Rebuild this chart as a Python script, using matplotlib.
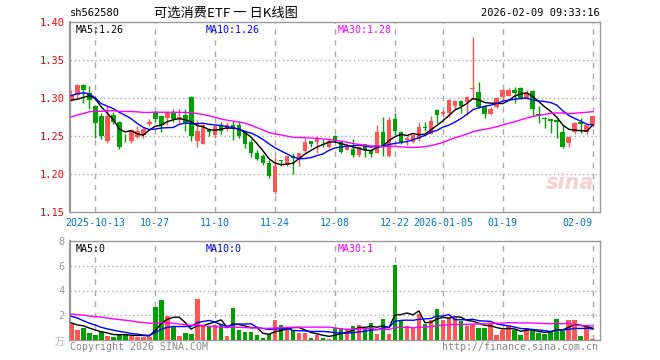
import numpy as np
import pandas as pd
import matplotlib
matplotlib.use("Agg")
import matplotlib.pyplot as plt

# daily candles, 2025-09-29 .. 2026-02-09
open_ = [1.298, 1.304, 1.317, 1.306, 1.289, 1.276, 1.243, 1.278, 1.269, 1.248,
         1.243, 1.249, 1.251, 1.266, 1.282, 1.276, 1.274, 1.280, 1.272, 1.277,
         1.301, 1.244, 1.240, 1.258, 1.251, 1.264, 1.259, 1.264, 1.264, 1.255,
         1.242, 1.227, 1.224, 1.215, 1.176, 1.219, 1.212, 1.224, 1.220, 1.230,
         1.243, 1.242, 1.240, 1.235, 1.250, 1.242, 1.232, 1.233, 1.225, 1.239,
         1.232, 1.228, 1.255, 1.224, 1.273, 1.255, 1.245, 1.242, 1.246, 1.262,
         1.253, 1.284, 1.279, 1.280, 1.290, 1.296, 1.295, 1.312, 1.308, 1.288,
         1.279, 1.288, 1.301, 1.303, 1.310, 1.313, 1.300, 1.309, 1.279, 1.274,
         1.272, 1.271, 1.255, 1.241, 1.255, 1.268, 1.255, 1.264]
high_ = [1.310, 1.318, 1.318, 1.316, 1.291, 1.280, 1.289, 1.282, 1.270, 1.252,
         1.259, 1.263, 1.260, 1.272, 1.283, 1.277, 1.282, 1.285, 1.285, 1.285,
         1.302, 1.271, 1.266, 1.261, 1.263, 1.268, 1.268, 1.270, 1.270, 1.258,
         1.246, 1.231, 1.226, 1.218, 1.223, 1.219, 1.224, 1.228, 1.228, 1.248,
         1.244, 1.250, 1.246, 1.246, 1.251, 1.244, 1.240, 1.246, 1.237, 1.240,
         1.233, 1.264, 1.275, 1.275, 1.280, 1.257, 1.250, 1.253, 1.268, 1.268,
         1.276, 1.285, 1.284, 1.299, 1.298, 1.297, 1.303, 1.380, 1.321, 1.291,
         1.288, 1.301, 1.312, 1.313, 1.315, 1.314, 1.310, 1.310, 1.289, 1.275,
         1.273, 1.272, 1.264, 1.250, 1.268, 1.274, 1.266, 1.277]
low_ = [1.296, 1.300, 1.294, 1.285, 1.248, 1.246, 1.241, 1.266, 1.233, 1.242,
        1.241, 1.247, 1.248, 1.263, 1.268, 1.255, 1.264, 1.268, 1.267, 1.256,
        1.244, 1.235, 1.239, 1.250, 1.248, 1.253, 1.256, 1.245, 1.248, 1.234,
        1.222, 1.218, 1.212, 1.195, 1.174, 1.211, 1.211, 1.200, 1.211, 1.229,
        1.236, 1.227, 1.236, 1.234, 1.242, 1.228, 1.231, 1.223, 1.223, 1.223,
        1.223, 1.227, 1.224, 1.223, 1.251, 1.240, 1.238, 1.241, 1.244, 1.257,
        1.252, 1.267, 1.275, 1.275, 1.286, 1.280, 1.277, 1.299, 1.287, 1.274,
        1.278, 1.287, 1.297, 1.302, 1.294, 1.299, 1.299, 1.276, 1.267, 1.261,
        1.254, 1.247, 1.234, 1.236, 1.252, 1.254, 1.253, 1.262]
close_ = [1.304, 1.317, 1.311, 1.297, 1.267, 1.250, 1.276, 1.269, 1.235, 1.247,
          1.258, 1.256, 1.259, 1.268, 1.273, 1.264, 1.280, 1.272, 1.275, 1.266,
          1.250, 1.256, 1.264, 1.255, 1.263, 1.257, 1.264, 1.262, 1.250, 1.239,
          1.228, 1.220, 1.215, 1.198, 1.211, 1.217, 1.224, 1.221, 1.228, 1.242,
          1.240, 1.246, 1.238, 1.244, 1.243, 1.229, 1.236, 1.225, 1.236, 1.231,
          1.226, 1.255, 1.237, 1.271, 1.256, 1.242, 1.247, 1.251, 1.262, 1.260,
          1.270, 1.277, 1.281, 1.297, 1.296, 1.289, 1.301, 1.313, 1.288, 1.279,
          1.285, 1.300, 1.311, 1.310, 1.307, 1.300, 1.306, 1.286, 1.277, 1.272,
          1.270, 1.268, 1.235, 1.249, 1.267, 1.266, 1.265, 1.276]
# volume in 万手
volume = [1.33, 0.8, 0.93, 0.59, 0.4, 0.64, 0.32, 0.27, 0.48, 0.5,
          0.32, 0.27, 0.27, 0.25, 2.67, 3.2, 1.92, 1.12, 0.32, 0.53,
          0.48, 3.28, 1.2, 1.12, 1.2, 1.33, 0.32, 2.59, 0.8, 0.64,
          0.64, 0.4, 0.19, 0.48, 1.6, 1.2, 0.93, 0.8, 0.53, 0.59,
          0.19, 0.4, 0.19, 0.1, 1.0, 0.93, 0.85, 1.12, 1.2, 1.01,
          1.36, 0.48, 1.68, 0.48, 6.08, 1.55, 1.12, 0.93, 2.08, 1.33,
          1.65, 2.48, 1.6, 1.81, 1.81, 1.55, 1.12, 1.33, 0.93, 1.01,
          1.33, 0.4, 0.8, 1.12, 0.8, 0.4, 0.93, 0.75, 0.53, 0.48,
          0.67, 1.68, 0.75, 1.6, 1.6, 0.32, 1.12, 0.08]

# days before the window, only used to seed the moving averages
prev_close = [1.24, 1.25, 1.23, 1.24, 1.26, 1.25, 1.27, 1.26, 1.25, 1.26,
              1.27, 1.28, 1.27, 1.26, 1.27, 1.28, 1.27, 1.28, 1.27, 1.26,
              1.29, 1.30, 1.31, 1.32, 1.325, 1.31, 1.30, 1.285, 1.286]
prev_vol = [2.5, 1.8, 2.9, 2.0, 1.7, 2.4, 2.6, 1.9, 2.2, 2.0,
            2.8, 1.6, 2.1, 2.3, 2.5, 1.9, 2.0, 2.4, 2.2, 2.0,
            2.2, 3.1, 2.6, 2.0, 2.4, 1.6, 1.3, 1.5, 1.2]

tick_idx = [4, 14, 24, 34, 44, 54, 62, 72, 87]
tick_lbl = ['2025-10-13', '10-27', '11-10', '11-24', '12-08', '12-22',
            '2026-01-05', '01-19', '02-09']

RED = '#ff5555'
GREEN = '#00a000'
GRID = '#aaaaaa'
MONO = 'DejaVu Sans Mono'

n = len(close_)
x = np.arange(n)
o = np.array(open_)
c = np.array(close_)
up = c >= o
colors = [RED if u else GREEN for u in up]

cs = pd.Series(prev_close + close_)
vs = pd.Series(prev_vol + volume)
k = len(prev_close)
ma = {p: cs.rolling(p, min_periods=1).mean().values[k:] for p in (5, 10, 30)}
vma = {p: vs.rolling(p, min_periods=1).mean().values[k:] for p in (5, 10, 30)}
ma_col = {5: 'black', 10: '#0000ff', 30: '#ff00ff'}

fig = plt.figure(figsize=(6.6, 3.6), dpi=100)
ax1 = fig.add_axes([70/660, 1-212/360, 530/660, 190/360])
ax2 = fig.add_axes([70/660, 1-340/360, 530/660, 99/360])

for ax in (ax1, ax2):
    ax.set_xlim(-0.2, n + 0.2)
    for s in ax.spines.values():
        s.set_color('#999999')
        s.set_linewidth(1)
    ax.spines['left'].set_linewidth(1.6)
    for t in tick_idx:
        ax.axvline(t, color=GRID, lw=1, ls=(0, (4, 4)), zorder=0)

# candles
ax1.vlines(x, low_, high_, colors=colors, lw=1, zorder=2)
body = np.maximum(np.abs(c - o), 0.0009)
ax1.bar(x, body, bottom=np.minimum(o, c), width=0.8, color=colors, zorder=3)
for p in (5, 10, 30):
    ax1.plot(x, ma[p], color=ma_col[p], lw=1, zorder=4)

ax1.set_ylim(1.15, 1.40)
yt = [1.15, 1.20, 1.25, 1.30, 1.35, 1.40]
ax1.set_yticks(yt)
ax1.set_yticklabels(['%.2f' % v for v in yt], color='red', family=MONO, fontsize=7.5)
for v in yt[1:-1]:
    ax1.axhline(v, color=GRID, lw=1, ls=(0, (1, 2)), zorder=0)
ax1.set_xticks(tick_idx)
ax1.set_xticklabels(tick_lbl, color='#0077cc', family=MONO, fontsize=7.2)
ax1.get_xticklabels()[-1].set_ha('right')
ax1.tick_params(length=0, pad=4)

ax1.text(0.01, 0.985, 'MA5:1.26', transform=ax1.transAxes, color='black', family=MONO, fontsize=7.2, va='top')
ax1.text(0.255, 0.985, 'MA10:1.26', transform=ax1.transAxes, color='#0000ff', family=MONO, fontsize=7.2, va='top')
ax1.text(0.505, 0.985, 'MA30:1.28', transform=ax1.transAxes, color='#ff00ff', family=MONO, fontsize=7.2, va='top')
ax1.text(0.99, 0.1, 'sina', transform=ax1.transAxes, color='#f4d0d0', fontsize=15,
         fontweight='bold', style='italic', ha='right', va='bottom', zorder=1)

# volume
ax2.bar(x, volume, width=0.8, color=colors, zorder=3)
for p in (5, 10, 30):
    ax2.plot(x, vma[p], color=ma_col[p], lw=1, zorder=4)
ax2.set_ylim(0, 8)
ax2.set_yticks([2, 4, 6, 8])
ax2.set_yticklabels(['2', '4', '6', '8'], color='#999999', family=MONO, fontsize=7.5)
for v in (2, 4, 6):
    ax2.axhline(v, color=GRID, lw=1, ls=(0, (1, 2)), zorder=0)
ax2.set_xticks([])
ax2.tick_params(length=0, pad=4)
ax2.text(0.01, 0.97, 'MA5:0', transform=ax2.transAxes, color='black', family=MONO, fontsize=7.2, va='top')
ax2.text(0.255, 0.97, 'MA10:0', transform=ax2.transAxes, color='#0000ff', family=MONO, fontsize=7.2, va='top')
ax2.text(0.505, 0.97, 'MA30:1', transform=ax2.transAxes, color='#ff00ff', family=MONO, fontsize=7.2, va='top')

fig.text(64/660, 1-342/360, '万', color='#aaaaaa', fontsize=7, ha='right', va='center',
         family=['Noto Sans CJK SC', 'DejaVu Sans'])
fig.text(70/660, 1-347/360, 'Copyright 2026 SINA.COM', color='#888888', family=MONO, fontsize=7.2, va='center')
fig.text(598/660, 1-347/360, 'http://finance.sina.com.cn', color='#888888', family=MONO, fontsize=7.2,
         va='center', ha='right')

# header
fig.text(70/660, 1-13/360, 'sh562580', color='black', family=MONO, fontsize=7.5, va='center')
fig.text(226/660, 1-13/360, '可选消费ETF 一 日K线图', color='black', fontsize=9.5, va='center', ha='center',
         family=['Noto Sans CJK SC', 'DejaVu Sans'])
fig.text(600/660, 1-13/360, '2026-02-09 09:33:16', color='black', family=MONO, fontsize=7.5,
         va='center', ha='right')

fig.savefig('out.png', dpi=100)
